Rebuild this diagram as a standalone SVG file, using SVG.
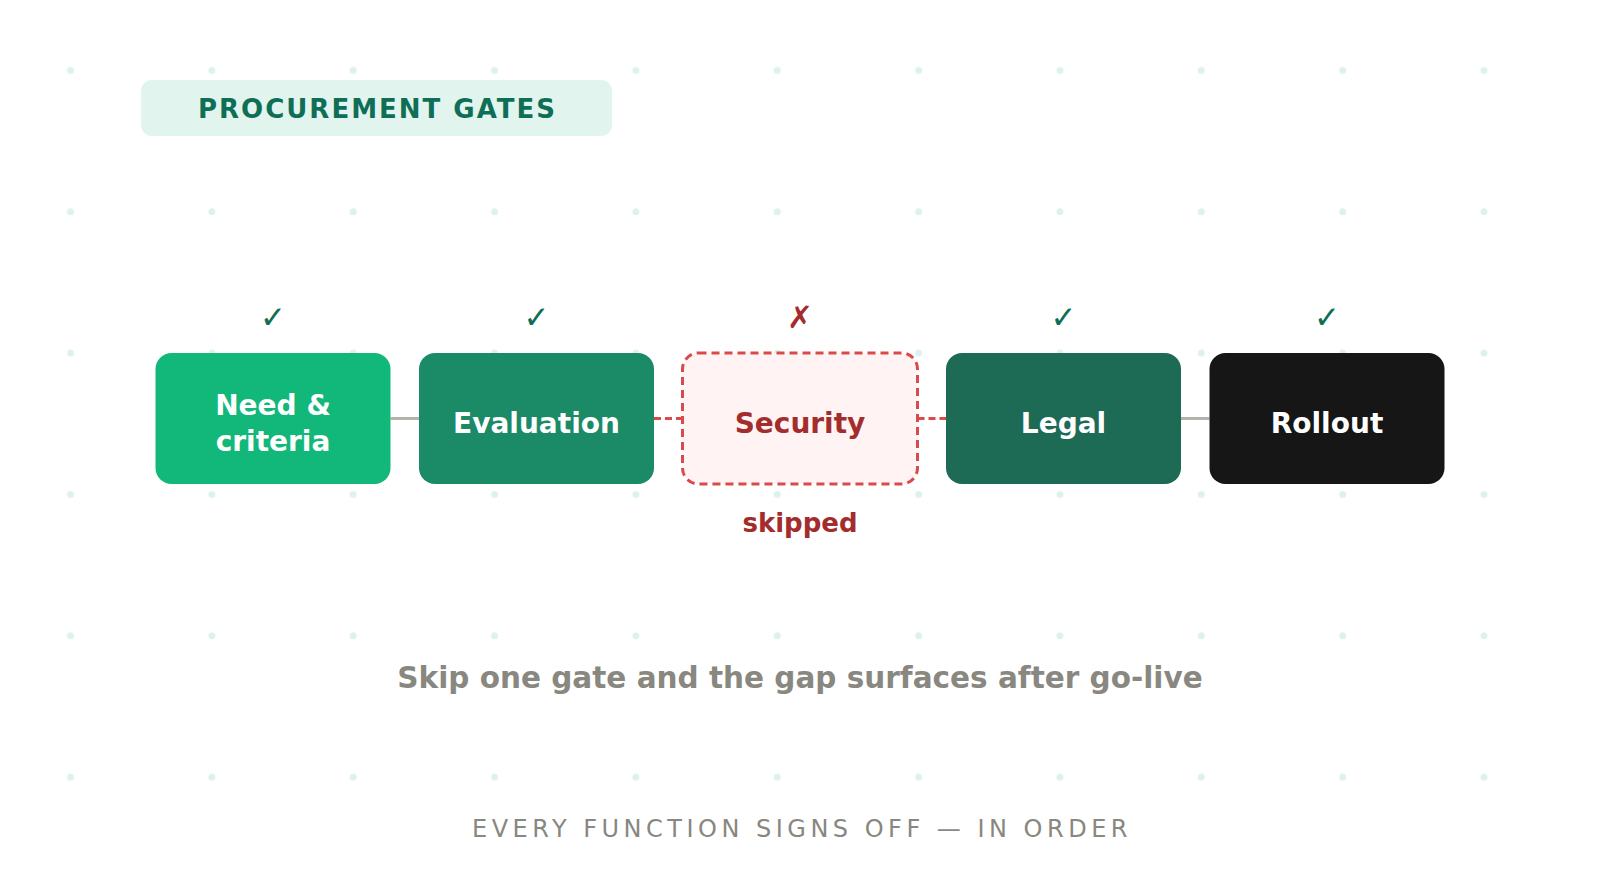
<svg xmlns="http://www.w3.org/2000/svg" width="1600" height="894" viewBox="0 0 1600 894">
  <defs>
    <style>
      .bg { fill: #ffffff; }
      .dot { fill: #dcf2eb; }
      .pill { fill: #e1f5ee; }
      .title { font-family: "DejaVu Sans", sans-serif; font-weight: bold; font-size: 26px; letter-spacing: 2px; fill: #0f6e56; }
      .box { stroke: none; }
      .lbl { font-family: "DejaVu Sans", sans-serif; font-weight: bold; font-size: 28px; fill: #ffffff; text-anchor: middle; }
      .mark { font-family: "DejaVu Sans", sans-serif; font-size: 31px; text-anchor: middle; }
      .ok { fill: #0f6e56; }
      .bad { fill: #a32d2d; }
      .conn-ok { stroke: #b4b2ab; stroke-width: 3; fill: none; }
      .conn-bad { stroke: #d94a4a; stroke-width: 3; fill: none; stroke-dasharray: 7 4; }
      .sub { font-family: "DejaVu Sans", sans-serif; font-weight: bold; font-size: 29.5px; fill: #888780; text-anchor: middle; }
      .foot { font-family: "DejaVu Sans", sans-serif; font-size: 24px; letter-spacing: 4.5px; fill: #888780; text-anchor: middle; }
    </style>
    <pattern id="dots" patternUnits="userSpaceOnUse" x="0" y="0" width="141.35" height="141.35">
      <circle class="dot" cx="70.5" cy="70.5" r="3.5"/>
    </pattern>
  </defs>

  <rect class="bg" x="0" y="0" width="1600" height="894"/>
  <rect x="0" y="0" width="1600" height="894" fill="url(#dots)"/>

  <g id="title">
    <rect class="pill" x="141" y="80" width="471" height="56" rx="11"/>
    <text class="title" x="377.5" y="118" text-anchor="middle">PROCUREMENT GATES</text>
  </g>

  <g id="connectors">
    <line class="conn-ok" x1="390.5" y1="418.5" x2="419" y2="418.5"/>
    <line class="conn-bad" x1="654" y1="418.5" x2="682.5" y2="418.5"/>
    <line class="conn-bad" x1="917.5" y1="418.5" x2="946" y2="418.5"/>
    <line class="conn-ok" x1="1181" y1="418.5" x2="1209.5" y2="418.5"/>
  </g>

  <g id="need">
    <text class="mark ok" x="273" y="328">✓</text>
    <rect class="box" x="155.5" y="353" width="235" height="131" rx="16" fill="#12b87a"/>
    <text class="lbl" x="273" y="415">Need &amp;</text>
    <text class="lbl" x="273" y="451">criteria</text>
  </g>

  <g id="evaluation">
    <text class="mark ok" x="536.5" y="328">✓</text>
    <rect class="box" x="419" y="353" width="235" height="131" rx="16" fill="#1b8a66"/>
    <text class="lbl" x="536.5" y="433">Evaluation</text>
  </g>

  <g id="security">
    <text class="mark bad" x="800" y="328">✗</text>
    <rect x="682.5" y="353" width="235" height="131" rx="16" fill="#fff4f3" stroke="#d94a4a" stroke-width="3" stroke-dasharray="8 5"/>
    <text class="lbl" x="800" y="433" style="fill:#a32d2d">Security</text>
    <text x="800" y="531.5" text-anchor="middle" style="font-family:'DejaVu Sans',sans-serif;font-weight:bold;font-size:26px;fill:#a32d2d">skipped</text>
  </g>

  <g id="legal">
    <text class="mark ok" x="1063.5" y="328">✓</text>
    <rect class="box" x="946" y="353" width="235" height="131" rx="16" fill="#1e6b55"/>
    <text class="lbl" x="1063.5" y="433">Legal</text>
  </g>

  <g id="rollout">
    <text class="mark ok" x="1327" y="328">✓</text>
    <rect class="box" x="1209.5" y="353" width="235" height="131" rx="16" fill="#161616"/>
    <text class="lbl" x="1327" y="433">Rollout</text>
  </g>

  <g id="captions">
    <text class="sub" x="800" y="688">Skip one gate and the gap surfaces after go-live</text>
    <text class="foot" x="802" y="837">EVERY FUNCTION SIGNS OFF — IN ORDER</text>
  </g>
</svg>
